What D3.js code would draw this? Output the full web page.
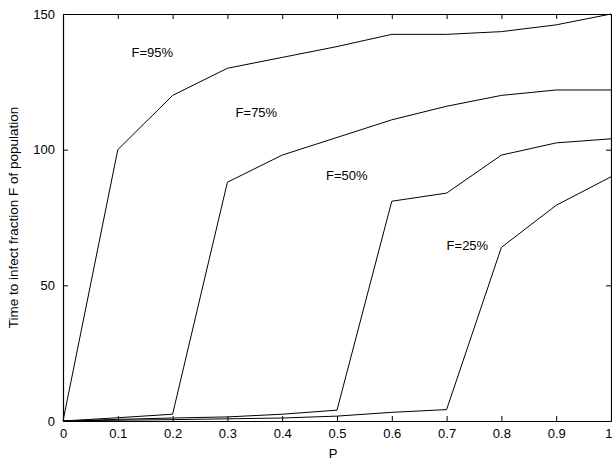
<!DOCTYPE html>
<html>
<head>
<meta charset="utf-8">
<script src="https://cdn.jsdelivr.net/npm/d3@7"></script>
<style>
  body { margin: 0; background: #fff; }
  svg { display: block; font-family: "Liberation Sans", Arial, sans-serif; }
</style>
</head>
<body>
<svg width="612" height="462"></svg>
<script>
// values
const pValues = [0, 0.1, 0.2, 0.3, 0.4, 0.5, 0.6, 0.7, 0.8, 0.9, 1];
const f95 = [0, 100, 120, 130, 134, 138, 142.5, 142.5, 143.5, 146, 150];
const f75 = [0, 1.2, 2.5, 88, 98, 104.5, 111, 116, 120, 122, 122];
const f50 = [0, 0.6, 1.1, 1.5, 2.5, 4, 81, 84, 98, 102.5, 104];
const f25 = [0, 0.3, 0.5, 0.8, 1.1, 1.8, 3.2, 4.2, 64, 79.5, 90];
const seriesNames = ['F=95%', 'F=75%', 'F=50%', 'F=25%'];
const labelPos = [[0.125, 134], [0.315, 112], [0.48, 89], [0.70, 63]];
const xTicks = [0, 0.1, 0.2, 0.3, 0.4, 0.5, 0.6, 0.7, 0.8, 0.9, 1];
const yTicks = [0, 50, 100, 150];

const margin = { top: 14, right: 1, bottom: 41, left: 63 };
const width = 612 - margin.left - margin.right;
const height = 462 - margin.top - margin.bottom;

const svg = d3.select('svg');
const g = svg.append('g')
  .attr('transform', 'translate(' + margin.left + ',' + margin.top + ')');

const x = d3.scaleLinear().domain([0, 1]).range([0, width]);
const y = d3.scaleLinear().domain([0, 150]).range([height, 0]);

// axes, ticks pointing inward like matlab
const fmt = d => d === 0 ? '0' : d === 1 ? '1' : d3.format('.1f')(d);
const xAxisG = g.append('g')
  .attr('transform', 'translate(0,' + height + ')')
  .call(d3.axisBottom(x).tickValues(xTicks).tickFormat(fmt).tickSizeInner(-5).tickSizeOuter(0).tickPadding(8));
g.append('g')
  .call(d3.axisTop(x).tickValues(xTicks).tickFormat('').tickSizeInner(-5).tickSizeOuter(0));
g.append('g')
  .call(d3.axisLeft(y).tickValues(yTicks).tickSizeInner(-5).tickSizeOuter(0).tickPadding(8));
g.append('g')
  .attr('transform', 'translate(' + width + ',0)')
  .call(d3.axisRight(y).tickValues(yTicks).tickFormat('').tickSizeInner(-5).tickSizeOuter(0));

g.selectAll('.domain').attr('stroke', '#000').attr('stroke-width', 1.2);
g.selectAll('.tick line').attr('stroke', '#000');
g.selectAll('.tick text').attr('fill', '#000').attr('font-size', 13)
  .attr('font-family', '"Liberation Sans", Arial, sans-serif');
// last label would run off the edge
xAxisG.selectAll('.tick text').filter(d => d === 1).attr('text-anchor', 'end').attr('dx', 1);

// curves
const line = d3.line()
  .x((d, i) => x(pValues[i]))
  .y(d => y(d));

[f95, f75, f50, f25].forEach(s => {
  g.append('path')
    .datum(s)
    .attr('fill', 'none')
    .attr('stroke', '#000')
    .attr('stroke-width', 1)
    .attr('d', line);
});

// curve labels
g.selectAll('.lbl')
  .data(seriesNames)
  .join('text')
  .attr('x', (d, i) => x(labelPos[i][0]))
  .attr('y', (d, i) => y(labelPos[i][1]))
  .attr('font-size', 13)
  .text(d => d);

// axis titles
svg.append('text')
  .attr('x', margin.left + x(0.5) - 4)
  .attr('y', 458)
  .attr('text-anchor', 'middle')
  .attr('font-size', 13)
  .text('P');

svg.append('text')
  .attr('transform', 'translate(18,' + (margin.top + height / 2) + ') rotate(-90)')
  .attr('text-anchor', 'middle')
  .attr('font-size', 13.5)
  .text('Time to infect fraction F of population');
</script>
</body>
</html>
